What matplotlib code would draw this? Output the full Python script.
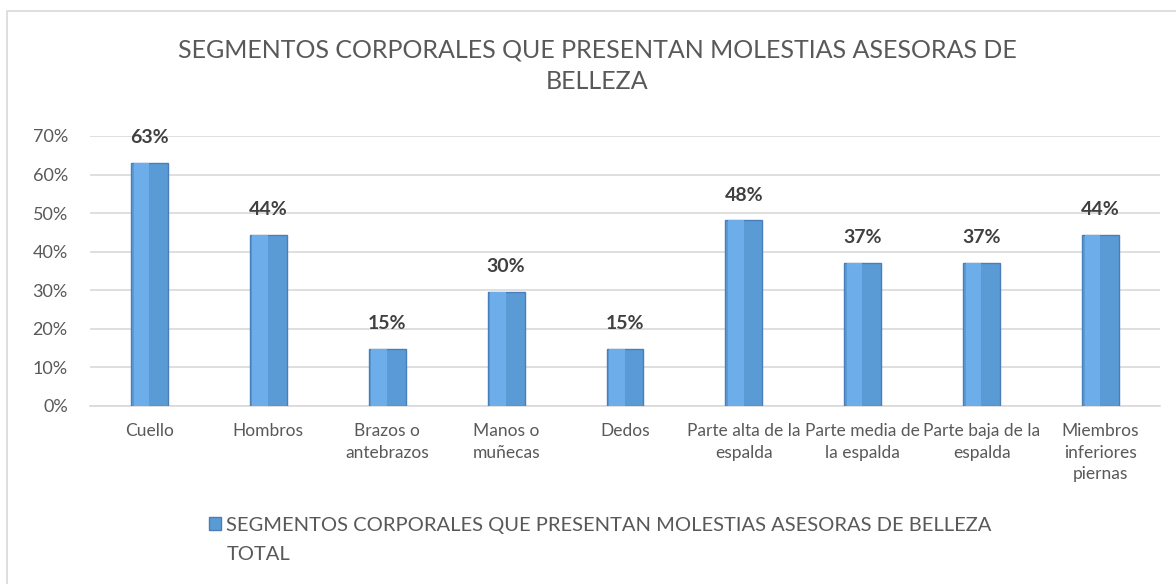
import numpy as np
import matplotlib.pyplot as plt
from matplotlib.patches import Rectangle

plt.rcParams['font.family'] = ['Lato', 'DejaVu Sans']

TITLE = 'SEGMENTOS CORPORALES QUE PRESENTAN MOLESTIAS ASESORAS DE\nBELLEZA'
SERIES = 'SEGMENTOS CORPORALES QUE PRESENTAN MOLESTIAS ASESORAS DE BELLEZA'
SERIES_2 = 'TOTAL'
categories = ['Cuello', 'Hombros', 'Brazos o\nantebrazos', 'Manos o\nmuñecas', 'Dedos',
              'Parte alta de la\nespalda', 'Parte media de\nla espalda', 'Parte baja de la\nespalda',
              'Miembros\ninferiores\npiernas']
values = [17 / 27, 12 / 27, 4 / 27, 8 / 27, 4 / 27, 13 / 27, 10 / 27, 10 / 27, 12 / 27]
yticks = [0, 0.1, 0.2, 0.3, 0.4, 0.5, 0.6, 0.7]

TEXT = '#595959'
W = 0.31

fig = plt.figure(figsize=(11.76, 5.84), dpi=100)
fig.patches.append(Rectangle((7 / 1176, -0.05), 1.1, 1 - 11 / 584 + 0.05, transform=fig.transFigure,
                             fill=False, edgecolor='#D9D9D9', linewidth=1.2))
ax = fig.add_axes([90 / 1176, 178 / 584, 1070 / 1176, 270 / 584])

x = np.arange(len(categories))
bars = ax.bar(x, values, width=W, color='#5B9BD5', edgecolor='#4A7EBB', linewidth=1, zorder=3,
              label=SERIES)
# lighter left half for the bevel look
ax.bar(x - W * 0.22, values, width=W * 0.42, color='#6DAEEA', linewidth=0, zorder=4)

for xi, v in zip(x, values):
    ax.annotate(f'{v:.0%}', (xi, v), xytext=(0, 12), textcoords='offset points', ha='center', va='bottom',
                fontsize=14, fontweight='bold', color='#404040')

ax.set_xlim(-0.5, len(categories) - 0.5)
ax.set_ylim(0, 0.7)
ax.set_yticks(yticks)
ax.set_yticklabels([f'{t:.0%}' for t in yticks])
ax.set_xticks(x)
ax.set_xticklabels(categories)
ax.grid(axis='y', color='#D9D9D9', linewidth=1.2, zorder=0)
ax.set_axisbelow(True)
for s in ['top', 'right', 'left']:
    ax.spines[s].set_visible(False)
ax.spines['bottom'].set_color('#D9D9D9')
ax.spines['bottom'].set_linewidth(1.2)
ax.tick_params(axis='y', length=0, pad=16, labelsize=13, labelcolor=TEXT)
ax.tick_params(axis='x', length=0, pad=12, labelsize=12.5, labelcolor=TEXT)
for lab in ax.get_xticklabels():
    lab.set_linespacing(1.45)

fig.text(0.508, 0.887, TITLE, ha='center', va='center', fontsize=18, color=TEXT, linespacing=1.45)

fig.legend(handles=[bars], loc='upper left', bbox_to_anchor=(0.178, 0.1155), frameon=False,
           fontsize=14.5, labelcolor=TEXT, handlelength=0.6, handleheight=0.6, handletextpad=0.25,
           borderpad=0, borderaxespad=0)
# second line of the legend entry, Excel wraps it under the text
fig.text(227 / 1176, 1 - 554 / 584, SERIES_2, ha='left', va='center', fontsize=14.5, color=TEXT)

fig.savefig('out.png', dpi=100)
